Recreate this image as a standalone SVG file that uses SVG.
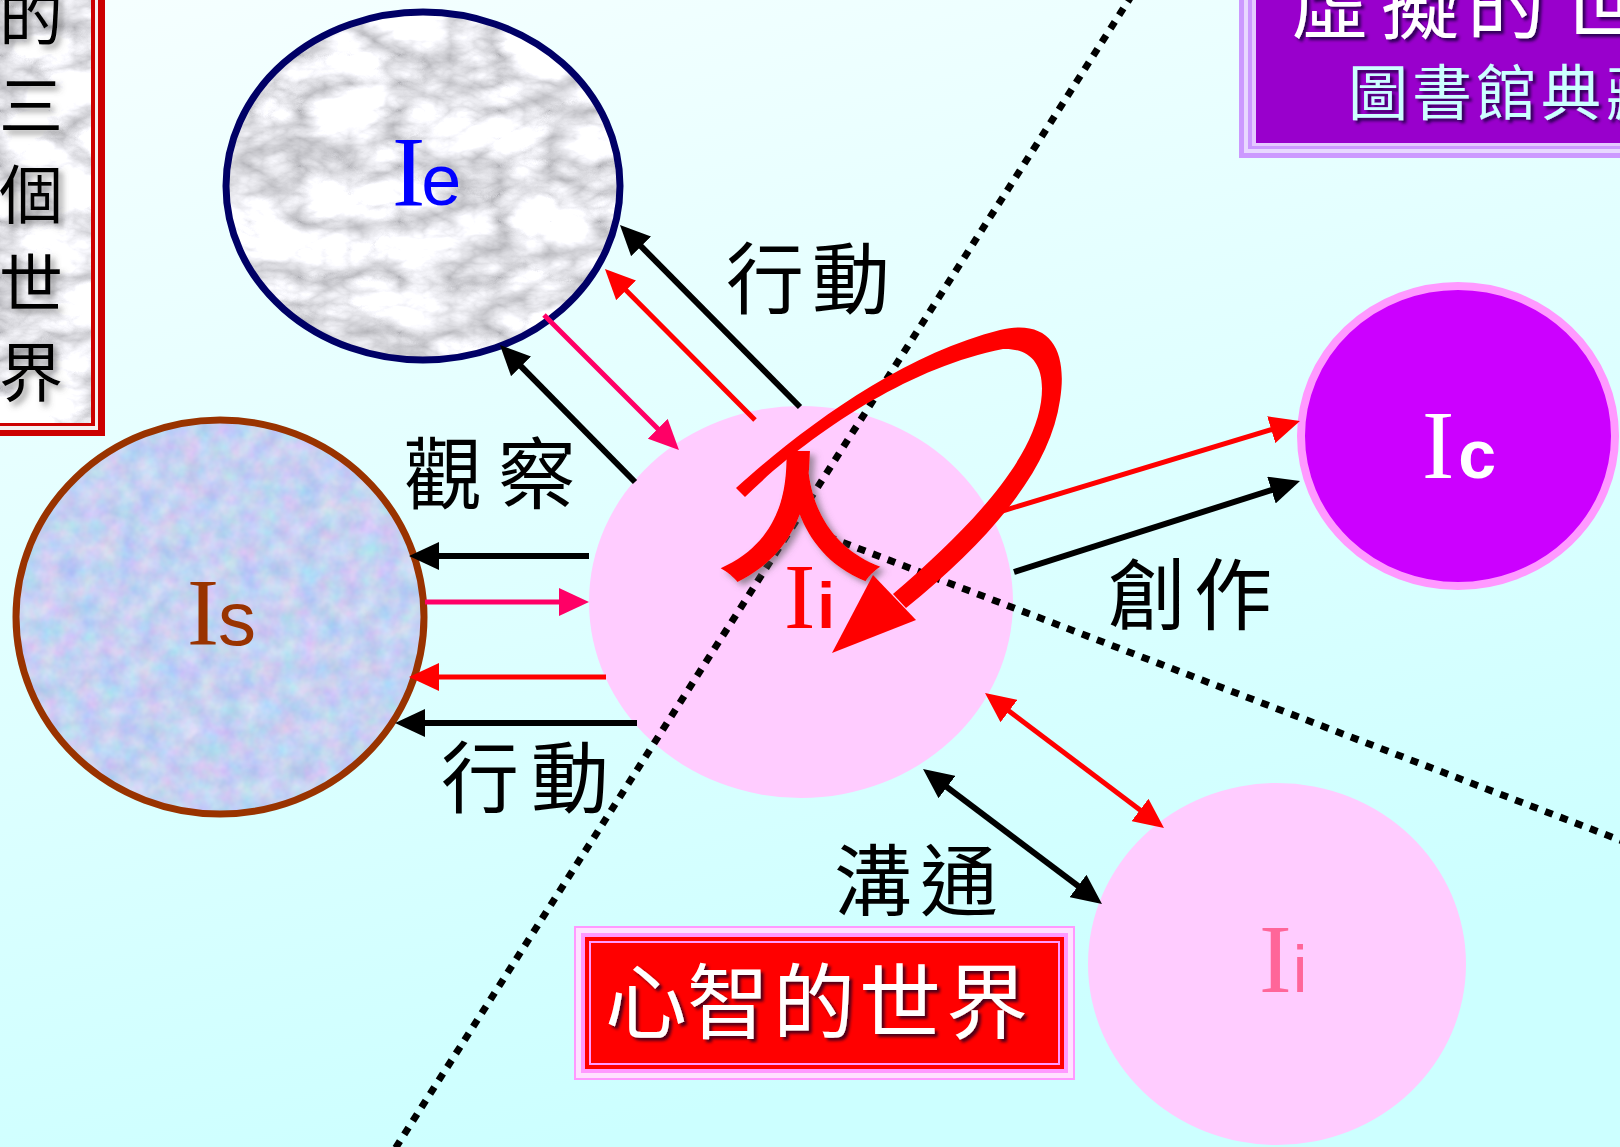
<svg xmlns="http://www.w3.org/2000/svg" width="1620" height="1147" viewBox="0 0 1620 1147">
<defs>
<linearGradient id="bg" x1="0" y1="0" x2="0.35" y2="1">
<stop offset="0" stop-color="#f6ffff"/>
<stop offset="1" stop-color="#ccffff"/>
</linearGradient>
<filter id="marble" x="0" y="0" width="1" height="1" color-interpolation-filters="sRGB">
<feTurbulence type="turbulence" baseFrequency="0.01 0.018" numOctaves="5" seed="7" result="n"/>
<feColorMatrix in="n" type="matrix" values="0.75 0 0 0 0.7  0.75 0 0 0 0.7  0.75 0 0 0 0.72  0 0 0 0 1" result="c"/>
<feComposite in="c" in2="SourceGraphic" operator="in"/>
</filter>
<filter id="paper" x="0" y="0" width="1" height="1" color-interpolation-filters="sRGB">
<feTurbulence type="fractalNoise" baseFrequency="0.05" numOctaves="3" seed="2" result="n"/>
<feColorMatrix in="n" type="matrix" values="0.28 0 0 0 0.63  0 0.2 0 0 0.72  0 0 0.1 0 0.9  0 0 0 0 1" result="c"/>
<feComposite in="c" in2="SourceGraphic" operator="in"/>
</filter>
<filter id="shadow" x="-20%" y="-20%" width="140%" height="140%">
<feDropShadow dx="3" dy="3" stdDeviation="1.5" flood-color="#000022" flood-opacity="0.7"/>
</filter>
<filter id="softshadow" x="-20%" y="-20%" width="140%" height="140%">
<feDropShadow dx="4" dy="4" stdDeviation="3" flood-color="#555555" flood-opacity="0.6"/>
</filter>
<marker id="ahBlack" viewBox="0 0 30 28" refX="22" refY="14" markerWidth="30" markerHeight="28" markerUnits="userSpaceOnUse" orient="auto-start-reverse">
<path d="M0,0 L30,14 L0,28 Z" fill="#000000"/>
</marker>
<marker id="ahRed" viewBox="0 0 30 28" refX="22" refY="14" markerWidth="30" markerHeight="28" markerUnits="userSpaceOnUse" orient="auto-start-reverse">
<path d="M0,0 L30,14 L0,28 Z" fill="#ff0000"/>
</marker>
<marker id="ahPink" viewBox="0 0 30 28" refX="22" refY="14" markerWidth="30" markerHeight="28" markerUnits="userSpaceOnUse" orient="auto-start-reverse">
<path d="M0,0 L30,14 L0,28 Z" fill="#ff0066"/>
</marker>
<style>
.cjk{font-family:"Noto Sans CJK TC","Noto Sans CJK SC",sans-serif;}
.lbl{font-size:78px;fill:#000000;text-anchor:middle;}
.ser{font-family:"Liberation Serif","Times New Roman",serif;}
.san{font-family:"Liberation Sans",Arial,sans-serif;}
.dot{fill:none;stroke:#000000;stroke-width:7;stroke-dasharray:8 8;}
.ab{fill:none;stroke:#000000;stroke-width:6;marker-end:url(#ahBlack);}
.ar{fill:none;stroke:#ff0000;stroke-width:5;marker-end:url(#ahRed);}
.ap{fill:none;stroke:#ff0066;stroke-width:5;marker-end:url(#ahPink);}
</style>
</defs>

<rect x="0" y="0" width="1620" height="1147" fill="url(#bg)"/>

<g id="title-left">
<rect x="-10" y="-10" width="115" height="446" fill="#cc0000"/>
<rect x="-10" y="-10" width="108" height="440" fill="#f4f0f0"/>
<rect x="-10" y="-10" width="105" height="436" fill="#cc0000"/>
<rect x="-10" y="-10" width="101" height="433" fill="#ffffff" filter="url(#marble)"/>
<text class="cjk" x="31 31 31 31 31" y="40 129 218 307 396" font-size="64" text-anchor="middle" fill="#000000" filter="url(#softshadow)">的三個世界</text>
</g>

<g id="title-virtual">
<rect x="1239" y="-10" width="400" height="168" fill="#cc99ff"/>
<rect x="1244" y="-10" width="400" height="163" fill="#e8d8ff"/>
<rect x="1248" y="-10" width="400" height="159" fill="#cc99ff"/>
<rect x="1252" y="-10" width="400" height="156" fill="#e4c8ff"/>
<rect x="1256" y="-10" width="400" height="153" fill="#9900cc"/>
<text class="cjk" x="1330 1420 1506 1600" y="33 33 33 33" font-size="78" text-anchor="middle" fill="#ffffff" filter="url(#shadow)">虛擬的世</text>
<text class="cjk" x="1378 1442 1506 1571 1636" y="115 115 115 115 115" font-size="60" text-anchor="middle" fill="#ccffff" filter="url(#shadow)">圖書館典藏</text>
</g>

<g id="node-Ie">
<ellipse cx="423" cy="186" rx="197" ry="174" fill="#ffffff" filter="url(#marble)"/>
<ellipse cx="423" cy="186" rx="197" ry="174" fill="none" stroke="#000066" stroke-width="7"/>
<text x="392" y="205" fill="#0000ff"><tspan class="ser" font-size="100">I</tspan><tspan class="san" font-size="72" dx="-4">e</tspan></text>
</g>

<g id="node-Is">
<ellipse cx="220" cy="617" rx="204" ry="197" fill="#ffffff" filter="url(#paper)"/>
<ellipse cx="220" cy="617" rx="204" ry="197" fill="none" stroke="#993300" stroke-width="7"/>
<text x="187" y="645" fill="#993300"><tspan class="ser" font-size="96">I</tspan><tspan class="san" font-size="76" dx="-1">s</tspan></text>
</g>

<g id="node-Ii">
<ellipse cx="801" cy="602" rx="212" ry="196" fill="#ffccff"/>
<text x="784" y="628" fill="#ff0000"><tspan class="ser" font-size="94">I</tspan><tspan class="san" font-size="64" font-weight="bold" dx="2">i</tspan></text>
</g>

<g id="node-Ic">
<ellipse cx="1458" cy="436" rx="157" ry="150" fill="#cc00ff" stroke="#ff99ff" stroke-width="8"/>
<text x="1422" y="478" fill="#ffffff"><tspan class="ser" font-size="97">I</tspan><tspan class="san" font-size="68" font-weight="bold" dx="4">c</tspan></text>
</g>

<g id="node-Ii2">
<ellipse cx="1277" cy="964" rx="189" ry="181" fill="#ffccff"/>
<text x="1259" y="992" fill="#ff6699"><tspan class="ser" font-size="98">I</tspan><tspan class="san" font-size="66" dx="1">i</tspan></text>
</g>

<g id="title-mind">
<rect x="575" y="927" width="499" height="152" fill="#ffe0ff" stroke="#ff99ff" stroke-width="2"/>
<rect x="581" y="933" width="487" height="140" fill="#ff99ff"/>
<rect x="585" y="937" width="479" height="132" fill="#ff0000"/>
<rect x="590" y="942" width="469" height="122" fill="none" stroke="#ff99ff" stroke-width="2"/>
<text class="cjk" x="646 728 814 900 987" y="1032 1032 1032 1032 1032" font-size="82" text-anchor="middle" fill="#ffffff" filter="url(#shadow)">心智的世界</text>
</g>

<g id="boundaries">
<line class="dot" x1="1132" y1="-5" x2="393" y2="1152"/>
<line class="dot" x1="813" y1="531" x2="1625" y2="842"/>
</g>

<g id="connectors">
<line class="ab" x1="800" y1="407" x2="625.6" y2="230.7"/>
<line class="ar" x1="755" y1="420" x2="610.6" y2="274.7"/>
<line class="ap" x1="544" y1="315" x2="673.3" y2="444.3"/>
<line class="ab" x1="635" y1="482" x2="505.6" y2="350.7"/>
<line class="ab" x1="589" y1="556" x2="417" y2="556"/>
<line class="ap" x1="425" y1="602" x2="581" y2="602"/>
<line class="ar" x1="606" y1="677" x2="417" y2="677"/>
<line class="ab" x1="637" y1="723" x2="403" y2="723"/>
<line class="ar" x1="999" y1="512" x2="1292.3" y2="423.3"/>
<line class="ab" x1="1014" y1="572" x2="1292.4" y2="483.4"/>
<line class="ar" x1="991.4" y1="697.8" x2="1157.6" y2="823.2" stroke-width="4" marker-start="url(#ahRed)"/>
<line class="ab" x1="929.4" y1="773.8" x2="1095.6" y2="899.2" marker-start="url(#ahBlack)"/>
</g>

<g id="labels" class="cjk">
<text class="lbl" x="765 851" y="308 308">行動</text>
<text class="lbl" x="443 537" y="503 503">觀察</text>
<text class="lbl" x="480 570" y="807 807">行動</text>
<text class="lbl" x="1147 1233" y="624 624">創作</text>
<text class="lbl" x="873 959" y="910 910">溝通</text>
</g>

<g id="self-reflection">
<text class="cjk" x="800" y="570" font-size="140" font-weight="bold" text-anchor="middle" fill="#ff0000" filter="url(#softshadow)" transform="translate(800 0) scale(1.2 1) translate(-800 0)">人</text>
<path d="M736,488 C800,430 900,355 1000,330 C1050,318 1068,350 1060,400 C1050,470 990,540 906,608 L893,594 C970,528 1032,462 1041,402 C1046,366 1032,348 1003,349 C905,368 805,438 745,497 Z" fill="#ff0000"/>
<polygon points="873,575 916,620 832,653" fill="#ff0000"/>
</g>
</svg>
